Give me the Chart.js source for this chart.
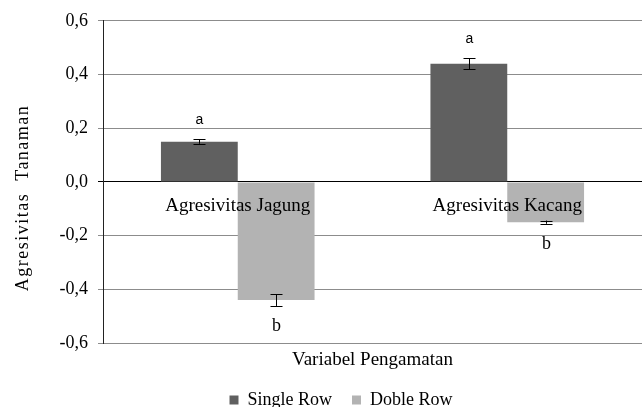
<!DOCTYPE html>
<html>
<head>
<meta charset="utf-8">
<script src="https://cdn.jsdelivr.net/npm/chart.js@4/dist/chart.umd.min.js"></script>
<style>
  html, body { margin: 0; padding: 0; background: #fff; }
  #wrap { width: 643px; height: 407px; }
</style>
</head>
<body>
<div id="wrap"><canvas id="agresivitas" width="643" height="407"></canvas></div>
<script>
// data agresivitas per variabel
const kategori = ['Agresivitas Jagung', 'Agresivitas Kacang'];
const singleRow = [0.15, 0.44];
const dobleRow = [-0.44, -0.15];
const galatSingle = [0.008, 0.021];
const galatDoble = [0.022, 0.006];
const notasiSingle = ['a', 'a'];
const notasiDoble = ['b', 'b'];
const yTicks = [-0.6, -0.4, -0.2, 0.0, 0.2, 0.4, 0.6];

const serif = '"Liberation Serif", "Times New Roman", serif';
const sans = '"Liberation Sans", Arial, sans-serif';
const padBawah = -12;
const padKiri = 40;

// garis galat + huruf notasi di atas/bawah batang
const errorBars = {
  id: 'errorBars',
  afterDatasetsDraw(chart) {
    const ctx = chart.ctx;
    const y = chart.scales.y;
    const sets = [
      { idx: 0, vals: singleRow, err: galatSingle, notes: notasiSingle, font: '14px ' + sans },
      { idx: 1, vals: dobleRow, err: galatDoble, notes: notasiDoble, font: '18px ' + serif }
    ];
    ctx.save();
    ctx.strokeStyle = '#000';
    ctx.lineWidth = 1;
    sets.forEach(s => {
      const meta = chart.getDatasetMeta(s.idx);
      meta.data.forEach((bar, i) => {
        const x = Math.round(bar.x) + 0.5;
        const v = s.vals[i], e = s.err[i];
        const y1 = y.getPixelForValue(v + e);
        const y2 = y.getPixelForValue(v - e);
        ctx.beginPath();
        ctx.moveTo(x, y1); ctx.lineTo(x, y2);
        ctx.moveTo(x - 6, Math.round(y1) + 0.5); ctx.lineTo(x + 6, Math.round(y1) + 0.5);
        ctx.moveTo(x - 6, Math.round(y2) + 0.5); ctx.lineTo(x + 6, Math.round(y2) + 0.5);
        ctx.stroke();
        ctx.fillStyle = '#000';
        ctx.font = s.font;
        ctx.textAlign = 'center';
        ctx.textBaseline = 'middle';
        const ty = v >= 0 ? Math.min(y1, y2) - 19 : Math.max(y1, y2) + 20;
        ctx.fillText(s.notes[i], x, ty);
      });
    });
    ctx.restore();
  }
};

// label kategori di bawah garis nol, judul sumbu Y
const axisText = {
  id: 'axisText',
  afterDatasetsDraw(chart) {
    const ctx = chart.ctx;
    const x = chart.scales.x;
    const y0 = chart.scales.y.getPixelForValue(0);
    ctx.save();
    ctx.fillStyle = '#000';
    ctx.font = '19px ' + serif;
    ctx.textAlign = 'center';
    ctx.textBaseline = 'middle';
    kategori.forEach((k, i) => {
      ctx.fillText(k, x.getPixelForValue(i), y0 + 24);
    });
    ctx.translate(23, 198);
    ctx.rotate(-Math.PI / 2);
    ctx.font = '18px ' + serif;
    ctx.letterSpacing = '1.5px';
    ctx.fillText('Agresivitas  Tanaman', 0, 0);
    ctx.restore();
  }
};

new Chart(document.getElementById('agresivitas').getContext('2d'), {
  type: 'bar',
  data: {
    labels: kategori,
    datasets: [
      { label: 'Single Row', data: singleRow, backgroundColor: '#606060', categoryPercentage: 0.57, barPercentage: 1 },
      { label: 'Doble Row', data: dobleRow, backgroundColor: '#b3b3b3', categoryPercentage: 0.57, barPercentage: 1 }
    ]
  },
  options: {
    responsive: false,
    animation: false,
    layout: { padding: { top: 19, right: 1, left: padKiri, bottom: padBawah } },
    plugins: {
      tooltip: { enabled: false },
      legend: {
        position: 'bottom',
        labels: {
          boxWidth: 9, boxHeight: 9, padding: 20, color: '#000',
          font: { family: serif, size: 18 }
        }
      }
    },
    scales: {
      x: {
        ticks: { display: false },
        grid: { display: false },
        border: { display: false },
        title: {
          display: true, text: 'Variabel Pengamatan', color: '#000',
          font: { family: serif, size: 19 }, padding: { top: 4, bottom: 0 }
        },
        afterFit(s) { s.height = 407 - padBawah - 343 - s.chart.legend.height; }
      },
      y: {
        min: -0.6, max: 0.6,
        afterBuildTicks(s) { s.ticks = yTicks.map(v => ({ value: v })); },
        ticks: {
          color: '#000', padding: 10,
          font: { family: serif, size: 18 },
          callback: v => v.toFixed(1).replace('.', ',')
        },
        grid: {
          tickLength: 5,
          color: c => (c.tick && c.tick.value === 0 ? '#000' : '#8c8c8c')
        },
        border: { color: '#222' },
        afterFit(s) { s.width = 103 - padKiri; }
      }
    }
  },
  plugins: [axisText, errorBars]
});
</script>
</body>
</html>
